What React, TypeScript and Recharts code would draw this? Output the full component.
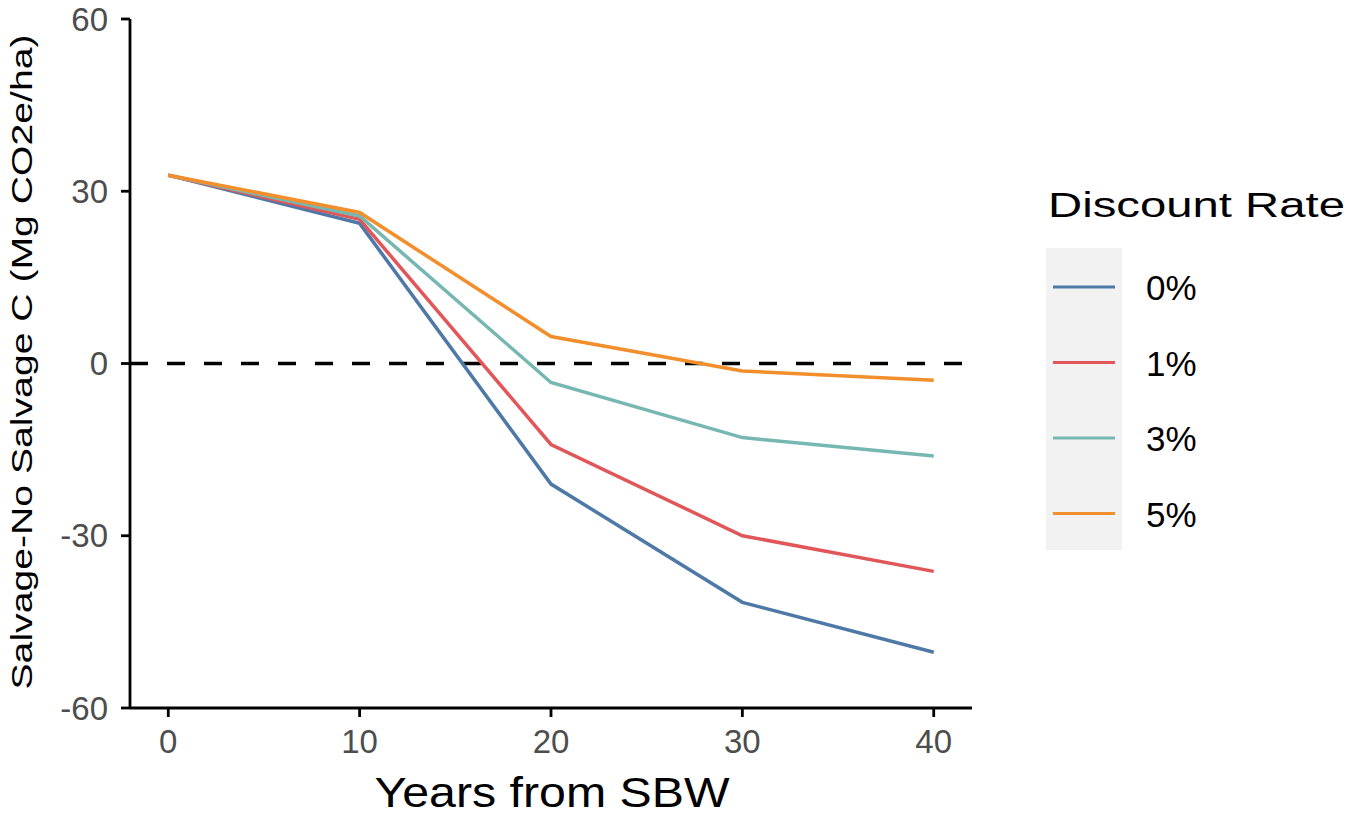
import React from 'react'
import { LineChart, Line, XAxis, YAxis, ReferenceLine, Label } from 'recharts'

// values (Mg CO2e/ha)
const years = [0, 10, 20, 30, 40]
const rate0 = [32.8, 24.4, -21.0, -41.6, -50.3]
const rate1 = [32.8, 25.1, -14.1, -30.0, -36.2]
const rate3 = [32.8, 25.7, -3.3, -12.9, -16.1]
const rate5 = [32.8, 26.3, 4.7, -1.3, -2.9]

const seriesKeys = ['r0', 'r1', 'r3', 'r5']
const seriesNames = ['0%', '1%', '3%', '5%']
const seriesColors = ['#4e79a7', '#e15759', '#76b7b2', '#f28e2b']

const xTicks = [0, 10, 20, 30, 40]
const yTicks = [-60, -30, 0, 30, 60]

const data = years.map((year, i) => ({
  year,
  r0: rate0[i],
  r1: rate1[i],
  r3: rate3[i],
  r5: rate5[i],
}))

const font = '"Liberation Sans", Arial, sans-serif'

function LegendBox() {
  return (
    <svg width={330} height={400} style={{ position: 'absolute', left: 1030, top: 170 }}>
      <text x={18} y={47} fontSize={35} fontFamily={font} fill="#000" textLength={297} lengthAdjust="spacingAndGlyphs">
        Discount Rate
      </text>
      <rect x={16} y={78} width={76} height={302} fill="#f2f2f2" />
      {seriesNames.map((name, i) => {
        const cy = 117 + i * 75.5
        return (
          <g key={name}>
            <line x1={23} x2={85} y1={cy} y2={cy} stroke={seriesColors[i]} strokeWidth={3.2} />
            <text x={116} y={cy + 13} fontSize={35} fontFamily={font} fill="#000">
              {name}
            </text>
          </g>
        )
      })}
    </svg>
  )
}

export default function App() {
  return (
    <div style={{ position: 'absolute', left: 0, top: 0, width: 1360, height: 818, background: '#fff' }}>
      <LineChart width={1360} height={818} data={data} margin={{ top: 19, right: 388, bottom: 0, left: 0 }}>
        <XAxis
          dataKey="year"
          type="number"
          domain={[-2, 42]}
          ticks={xTicks}
          allowDataOverflow
          height={110}
          axisLine={{ stroke: '#000', strokeWidth: 2.8 }}
          tickLine={{ stroke: '#000', strokeWidth: 2.8 }}
          tickSize={9}
          tickMargin={13}
          tick={{ fontSize: 33, fill: '#4d4d4d', fontFamily: font }}
        >
          <Label
            content={() => (
              <text x={552} y={807} textAnchor="middle" fontSize={42} fontFamily={font} fill="#000" textLength={355} lengthAdjust="spacingAndGlyphs">
                Years from SBW
              </text>
            )}
          />
        </XAxis>
        <YAxis
          type="number"
          domain={[-60, 60]}
          ticks={yTicks}
          width={130}
          axisLine={{ stroke: '#000', strokeWidth: 2.8 }}
          tickLine={{ stroke: '#000', strokeWidth: 2.8 }}
          tickSize={9}
          tickMargin={13}
          tick={{ fontSize: 33, fill: '#4d4d4d', fontFamily: font }}
        >
          <Label
            content={() => (
              <text x={32} y={362} transform="rotate(-90 32 362)" textAnchor="middle" fontSize={30} fontFamily={font} fill="#000" textLength={655} lengthAdjust="spacingAndGlyphs">
                Salvage-No Salvage C (Mg CO2e/ha)
              </text>
            )}
          />
        </YAxis>
        <ReferenceLine y={0} stroke="#000" strokeWidth={3.5} strokeDasharray="18 19" />
        {seriesKeys.map((key, i) => (
          <Line
            key={key}
            dataKey={key}
            name={seriesNames[i]}
            type="linear"
            stroke={seriesColors[i]}
            strokeWidth={3.5}
            dot={false}
            activeDot={false}
            isAnimationActive={false}
          />
        ))}
      </LineChart>
      <LegendBox />
    </div>
  )
}
